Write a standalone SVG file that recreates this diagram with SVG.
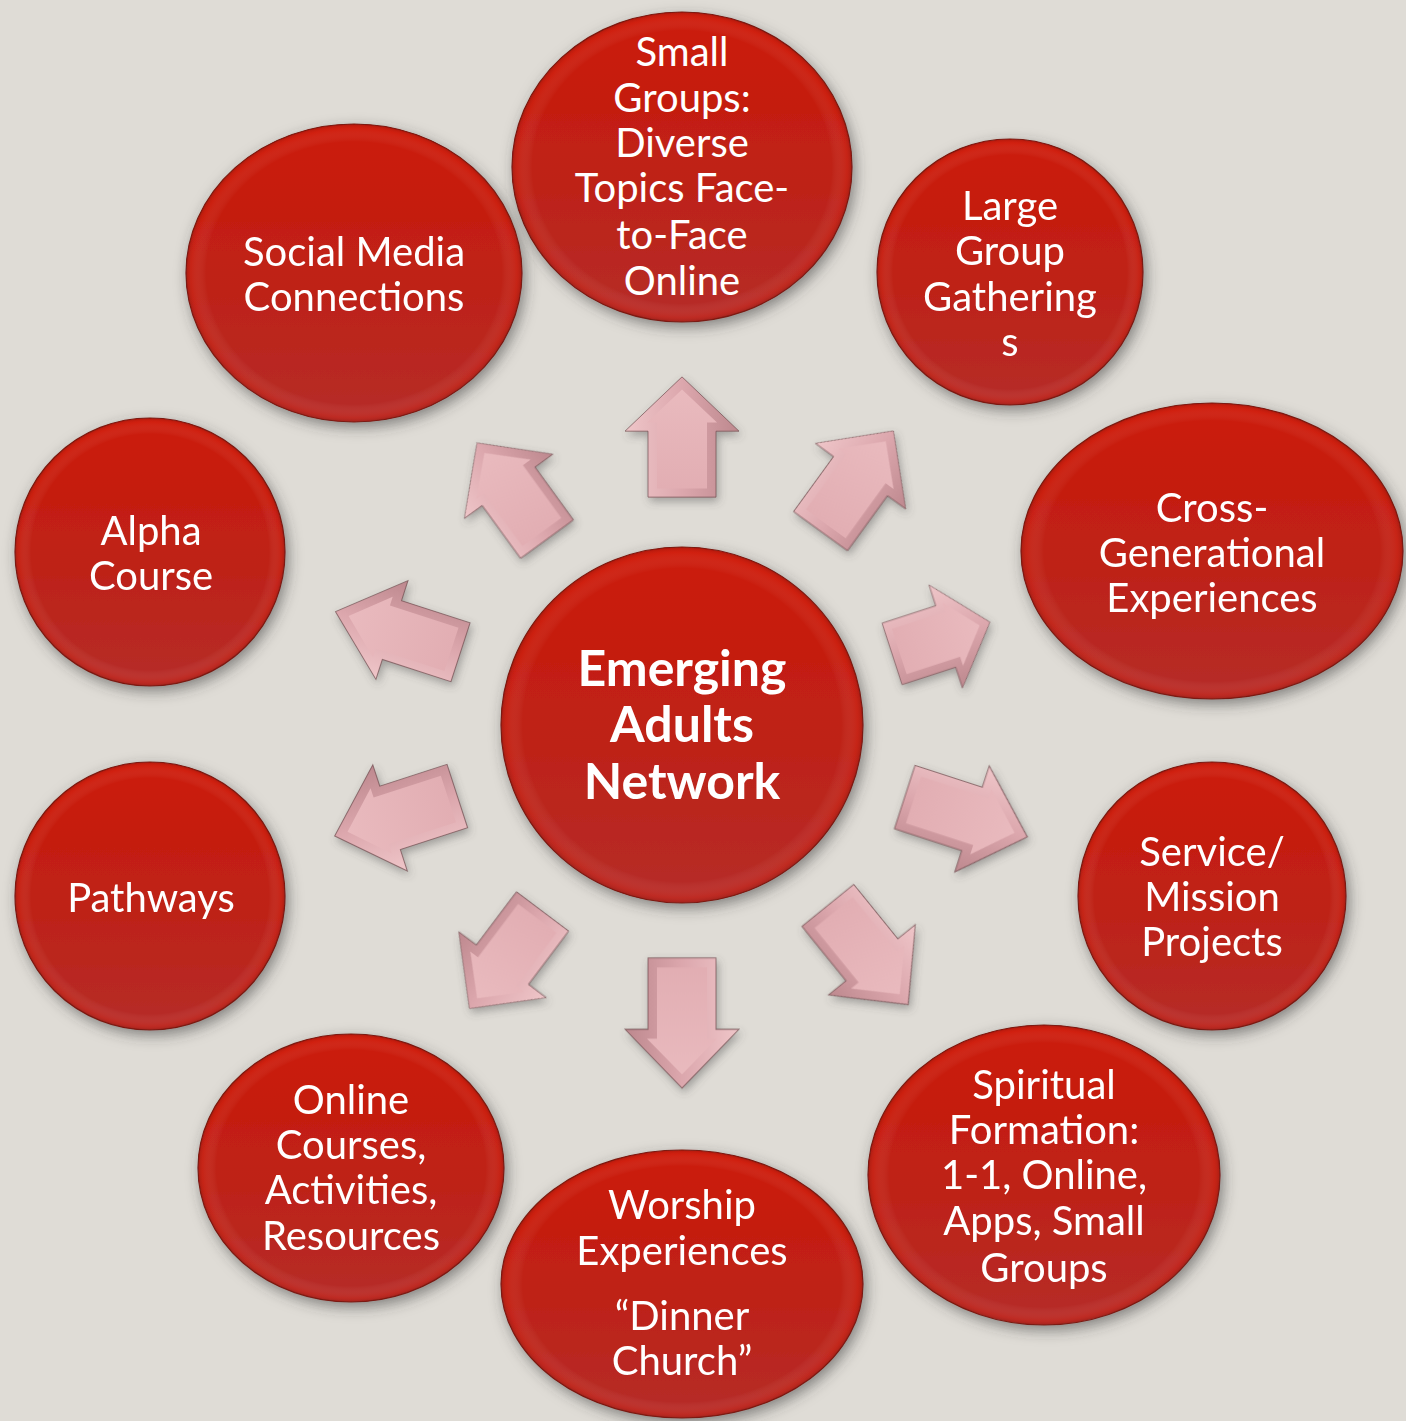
<svg xmlns="http://www.w3.org/2000/svg" width="1406" height="1421" viewBox="0 0 1406 1421">
<defs>
  <linearGradient id="red" x1="0" y1="0" x2="0" y2="1">
    <stop offset="0" stop-color="#cc1a08"/>
    <stop offset="0.5" stop-color="#bf2116"/>
    <stop offset="1" stop-color="#b52c28"/>
  </linearGradient>
  <radialGradient id="redEdge" cx="0.5" cy="0.5" r="0.5">
    <stop offset="0.88" stop-color="#ffffff" stop-opacity="0"/>
    <stop offset="0.97" stop-color="#e8301a" stop-opacity="0.18"/>
    <stop offset="1" stop-color="#7a1008" stop-opacity="0.35"/>
  </radialGradient>
  <linearGradient id="pinkOuter" x1="0" y1="0" x2="1" y2="0">
    <stop offset="0" stop-color="#efc6c9"/>
    <stop offset="0.5" stop-color="#dca7ad"/>
    <stop offset="1" stop-color="#bd888e"/>
  </linearGradient>
  <linearGradient id="pinkInner" x1="0" y1="0" x2="0" y2="1">
    <stop offset="0" stop-color="#e9babe"/>
    <stop offset="1" stop-color="#e2aeb3"/>
  </linearGradient>
  <filter id="cshadow" x="-20%" y="-20%" width="140%" height="140%">
    <feDropShadow dx="3" dy="5" stdDeviation="7" flood-color="#3a3a3a" flood-opacity="0.55"/>
  </filter>
  <filter id="ashadow" x="-30%" y="-30%" width="160%" height="160%">
    <feDropShadow dx="2" dy="4" stdDeviation="4" flood-color="#555" flood-opacity="0.45"/>
  </filter>
  <g id="arrow">
    <polygon points="0,-62 57,-6 34,-6 34,62 -34,62 -34,-6 -57,-6" fill="url(#pinkOuter)" stroke="#6f4b4e" stroke-width="1" stroke-opacity="0.7"/>
    <polygon points="0,-49 35,-15 25,-15 25,53 -25,53 -25,-15 -35,-15" fill="url(#pinkInner)"/>
  </g>
</defs>
<style>
  .node { fill: url(#red); stroke: #7a1a12; stroke-width: 1.2; filter: url(#cshadow); }
  .edge { fill: url(#redEdge); }
  .lbl { font-family: Lato, "Open Sans", "Liberation Sans", sans-serif; font-size: 40px; fill: #ffffff; text-anchor: middle; }
  .hub { font-family: Lato, "Open Sans", "Liberation Sans", sans-serif; font-size: 50px; font-weight: bold; fill: #ffffff; text-anchor: middle; }
</style>
<rect width="1406" height="1421" fill="#dfdcd6"/>

<g id="connectors" filter="url(#ashadow)">
  <use href="#arrow" transform="translate(682,437) rotate(0) scale(1,0.97)"/>
  <use href="#arrow" transform="translate(857,481) rotate(36) scale(0.98,1.0)"/>
  <use href="#arrow" transform="translate(941,638) rotate(72) scale(0.95,0.83)"/>
  <use href="#arrow" transform="translate(966,817) rotate(108) scale(0.98,1.04)"/>
  <use href="#arrow" transform="translate(868,955) rotate(141) scale(0.98,1.03)"/>
  <use href="#arrow" transform="translate(682,1023) rotate(180) scale(1,1.05)"/>
  <use href="#arrow" transform="translate(506,960) rotate(217) scale(0.96,0.98)"/>
  <use href="#arrow" transform="translate(396,816) rotate(252) scale(0.98,1.04)"/>
  <use href="#arrow" transform="translate(398,632) rotate(288) scale(0.91,1.06)"/>
  <use href="#arrow" transform="translate(512,491) rotate(324) scale(0.96,0.96)"/>
</g>

<g id="hub">
  <ellipse class="node" cx="682" cy="725" rx="181" ry="178"/>
  <ellipse class="edge" cx="682" cy="725" rx="181" ry="178"/>
  <text class="hub" x="682" y="686">Emerging</text>
  <text class="hub" x="682" y="742">Adults</text>
  <text class="hub" x="682" y="799">Network</text>
</g>

<g id="small-groups">
  <ellipse class="node" cx="682" cy="167" rx="170" ry="155"/>
  <ellipse class="edge" cx="682" cy="167" rx="170" ry="155"/>
  <text class="lbl" x="682" y="66">Small</text>
  <text class="lbl" x="682" y="112">Groups:</text>
  <text class="lbl" x="682" y="157">Diverse</text>
  <text class="lbl" x="682" y="202">Topics Face-</text>
  <text class="lbl" x="682" y="249">to-Face</text>
  <text class="lbl" x="682" y="295">Online</text>
</g>

<g id="social-media">
  <ellipse class="node" cx="354" cy="273" rx="168" ry="149"/>
  <ellipse class="edge" cx="354" cy="273" rx="168" ry="149"/>
  <text class="lbl" x="354" y="266">Social Media</text>
  <text class="lbl" x="354" y="311">Connections</text>
</g>

<g id="large-group">
  <ellipse class="node" cx="1010" cy="272" rx="133" ry="133"/>
  <ellipse class="edge" cx="1010" cy="272" rx="133" ry="133"/>
  <text class="lbl" x="1010" y="220">Large</text>
  <text class="lbl" x="1010" y="265">Group</text>
  <text class="lbl" x="1010" y="311">Gathering</text>
  <text class="lbl" x="1010" y="356">s</text>
</g>

<g id="cross-generational">
  <ellipse class="node" cx="1212" cy="551" rx="191" ry="148"/>
  <ellipse class="edge" cx="1212" cy="551" rx="191" ry="148"/>
  <text class="lbl" x="1212" y="522">Cross-</text>
  <text class="lbl" x="1212" y="567">Generational</text>
  <text class="lbl" x="1212" y="612">Experiences</text>
</g>

<g id="service-mission">
  <ellipse class="node" cx="1212" cy="896" rx="134" ry="134"/>
  <ellipse class="edge" cx="1212" cy="896" rx="134" ry="134"/>
  <text class="lbl" x="1212" y="866">Service/</text>
  <text class="lbl" x="1212" y="911">Mission</text>
  <text class="lbl" x="1212" y="956">Projects</text>
</g>

<g id="spiritual-formation">
  <ellipse class="node" cx="1044" cy="1175" rx="176" ry="150"/>
  <ellipse class="edge" cx="1044" cy="1175" rx="176" ry="150"/>
  <text class="lbl" x="1044" y="1099">Spiritual</text>
  <text class="lbl" x="1044" y="1144">Formation:</text>
  <text class="lbl" x="1044" y="1189">1-1, Online,</text>
  <text class="lbl" x="1044" y="1235">Apps, Small</text>
  <text class="lbl" x="1044" y="1282">Groups</text>
</g>

<g id="worship">
  <ellipse class="node" cx="682" cy="1284" rx="181" ry="134"/>
  <ellipse class="edge" cx="682" cy="1284" rx="181" ry="134"/>
  <text class="lbl" x="682" y="1219">Worship</text>
  <text class="lbl" x="682" y="1265">Experiences</text>
  <text class="lbl" x="682" y="1330">“Dinner</text>
  <text class="lbl" x="682" y="1375">Church”</text>
</g>

<g id="online-courses">
  <ellipse class="node" cx="351" cy="1168" rx="153" ry="134"/>
  <ellipse class="edge" cx="351" cy="1168" rx="153" ry="134"/>
  <text class="lbl" x="351" y="1114">Online</text>
  <text class="lbl" x="351" y="1159">Courses,</text>
  <text class="lbl" x="351" y="1204">Activities,</text>
  <text class="lbl" x="351" y="1250">Resources</text>
</g>

<g id="pathways">
  <ellipse class="node" cx="150" cy="896" rx="135" ry="134"/>
  <ellipse class="edge" cx="150" cy="896" rx="135" ry="134"/>
  <text class="lbl" x="151" y="912">Pathways</text>
</g>

<g id="alpha-course">
  <ellipse class="node" cx="150" cy="552" rx="135" ry="134"/>
  <ellipse class="edge" cx="150" cy="552" rx="135" ry="134"/>
  <text class="lbl" x="151" y="545">Alpha</text>
  <text class="lbl" x="151" y="590">Course</text>
</g>
</svg>
